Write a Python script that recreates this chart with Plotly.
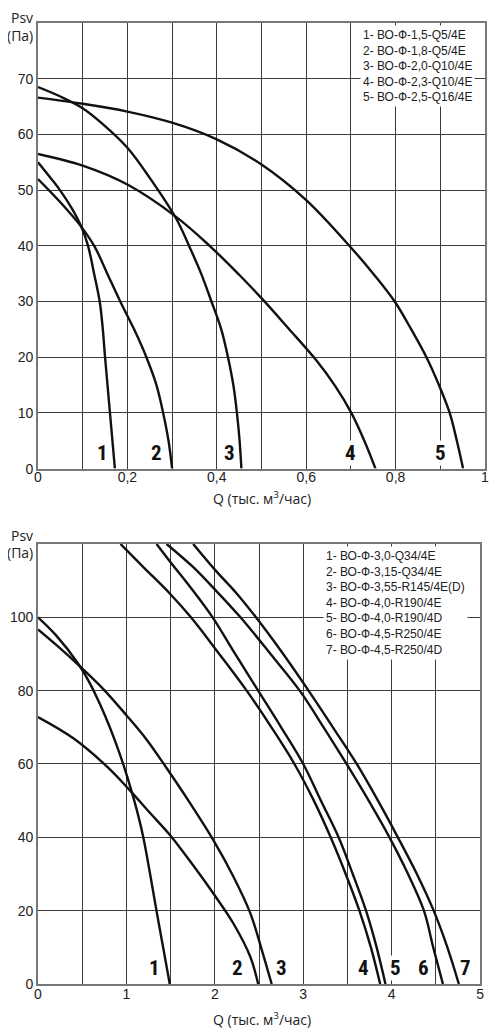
import plotly.graph_objects as go

# --- top chart: BO-Ф-1,5 ... 2,5 (Q in thousand m3/h, Psv in Pa)
t1_q = [0, 0.03, 0.049, 0.075, 0.097, 0.112, 0.1255, 0.138, 0.145, 0.150, 0.161, 0.172]
t1_p = [55, 52.0, 50.0, 46.8, 43.4, 40, 35, 30, 25, 20, 10, 0]
t2_q = [0, 0.049, 0.097, 0.127, 0.155, 0.184, 0.215, 0.2425, 0.265, 0.28, 0.292, 0.30]
t2_p = [52, 47.9, 43.4, 39.8, 35, 30, 25, 20, 15, 10, 5, 0]
t3_q = [0, 0.05, 0.1, 0.15, 0.2, 0.25, 0.309, 0.339, 0.365, 0.388, 0.41, 0.425, 0.437, 0.445, 0.451, 0.455]
t3_p = [68.5, 66.8, 64.7, 61.5, 57.6, 52.2, 44.9, 39.8, 35, 30, 25, 20, 15, 10, 5, 0]
t4_q = [0, 0.1, 0.2, 0.309, 0.384, 0.45, 0.5, 0.56, 0.623, 0.665, 0.701, 0.73, 0.755]
t4_p = [56.5, 54.4, 51.0, 45.2, 40.0, 34.8, 30.6, 25.2, 19.4, 14.8, 10, 5, 0]
t5_q = [0, 0.1, 0.2, 0.3, 0.4, 0.5, 0.6, 0.7, 0.75, 0.798, 0.835, 0.869, 0.897, 0.921, 0.937, 0.951]
t5_p = [66.6, 65.5, 64.1, 62.1, 59.1, 54.6, 48.2, 39.7, 35, 30, 25, 20, 15, 10, 5, 0]

top_legend = [
    "1- ВО-Ф-1,5-Q5/4E",
    "2- ВО-Ф-1,8-Q5/4E",
    "3- ВО-Ф-2,0-Q10/4E",
    "4- ВО-Ф-2,3-Q10/4E",
    "5- ВО-Ф-2,5-Q16/4E",
]
top_label_q = [0.145, 0.266, 0.429, 0.70, 0.90]
top_xticks = [0, 0.2, 0.4, 0.6, 0.8, 1]
top_xtext = ["0", "0,2", "0,4", "0,6", "0,8", "1"]
top_yticks = [0, 10, 20, 30, 40, 50, 60, 70]

# --- bottom chart: BO-Ф-3,0 ... 4,5
b1_q = [0, 0.2, 0.453, 0.587, 0.699, 0.812, 0.906, 0.963, 1.058, 1.12, 1.189, 1.268, 1.34, 1.415, 1.49]
b1_p = [100, 95.2, 87.4, 82.0, 76.4, 70.0, 64.0, 60.0, 52.6, 47.2, 40.2, 30, 20, 10, 0]
b2_q = [0, 0.4, 0.793, 1.039, 1.265, 1.49, 1.75, 1.98, 2.21, 2.40, 2.49]
b2_p = [72.8, 67.0, 59.0, 52.8, 46.7, 40.7, 32.5, 24.8, 16.5, 7.5, 0]
b3_q = [0, 0.2, 0.453, 0.736, 1.0, 1.227, 1.454, 1.718, 1.98, 2.208, 2.40, 2.53, 2.643]
b3_p = [96.7, 92.6, 87.1, 80.5, 73.3, 66.7, 58.9, 49.4, 39.4, 29.4, 19.4, 9.4, 0]
b4_q = [0.933, 1.2, 1.49, 1.73, 2.05, 2.36, 2.64, 2.90, 3.12, 3.31, 3.48, 3.635, 3.765, 3.87]
b4_p = [120, 113.5, 106.5, 100, 90, 80, 70, 60, 50, 40, 30, 20, 10, 0]
b5_q = [1.341, 1.49, 1.73, 1.975, 2.23, 2.49, 2.75, 3.0, 3.2, 3.40, 3.56, 3.71, 3.83, 3.93]
b5_p = [120, 115.3, 108, 100, 90, 80, 70, 60, 50, 40, 30, 20, 10, 0]
b6_q = [1.454, 1.75, 2.0, 2.29, 2.63, 2.96, 3.23, 3.49, 3.74, 3.975, 4.185, 4.365, 4.47, 4.58]
b6_p = [120, 113.8, 107.6, 100, 90, 80, 70, 60, 50, 40, 30, 20, 10, 0]
b7_q = [1.755, 2.0, 2.247, 2.465, 2.737, 3.06, 3.335, 3.605, 3.845, 4.07, 4.285, 4.475, 4.63, 4.76]
b7_p = [120, 113, 106.5, 100, 91.2, 80, 70, 60, 50, 40, 30, 20, 10, 0]

bottom_legend = [
    "1- ВО-Ф-3,0-Q34/4E",
    "2- ВО-Ф-3,15-Q34/4E",
    "3- ВО-Ф-3,55-R145/4E(D)",
    "4- ВО-Ф-4,0-R190/4E",
    "5- ВО-Ф-4,0-R190/4D",
    "6- ВО-Ф-4,5-R250/4E",
    "7- ВО-Ф-4,5-R250/4D",
]
bottom_label_q = [1.32, 2.26, 2.75, 3.68, 4.04, 4.36, 4.84]
bottom_xticks = [0, 1, 2, 3, 4, 5]
bottom_yticks = [0, 20, 40, 60, 80, 100]

TICK_FONT = dict(family="Liberation Sans, Arial, sans-serif", size=14, color="#222")
TEXT_FONT = dict(family="Open Sans, Liberation Sans, sans-serif", size=14, color="#222")
NUM_FONT = dict(family="Liberation Sans Narrow, Roboto Condensed, Liberation Sans, sans-serif",
                size=21, color="#111")
LEG_FONT = dict(family="Liberation Sans, Arial, sans-serif", size=12, color="#222")
GRID = "#3c3c3c"
CURVE = dict(color="#111", width=2.4, shape="spline", smoothing=1.0)

fig = go.Figure()

for q, p in [(t1_q, t1_p), (t2_q, t2_p), (t3_q, t3_p), (t4_q, t4_p), (t5_q, t5_p)]:
    fig.add_trace(go.Scatter(x=q, y=p, mode="lines", line=CURVE, xaxis="x", yaxis="y",
                             showlegend=False, hoverinfo="skip"))

for q, p in [(b1_q, b1_p), (b2_q, b2_p), (b3_q, b3_p), (b4_q, b4_p),
             (b5_q, b5_p), (b6_q, b6_p), (b7_q, b7_p)]:
    fig.add_trace(go.Scatter(x=q, y=p, mode="lines", line=CURVE, xaxis="x2", yaxis="y2",
                             showlegend=False, hoverinfo="skip"))

axis_common = dict(
    showgrid=True, gridcolor=GRID, gridwidth=1.2,
    showline=True, mirror=True, linecolor="#777", linewidth=1.6,
    zeroline=False, ticks="", tickfont=TICK_FONT, fixedrange=True,
    automargin=False,
)

annotations = []

# curve numbers
for i, q in enumerate(top_label_q):
    annotations.append(dict(x=q, y=2.8, xref="x", yref="y", text=f"<b>{i + 1}</b>",
                            showarrow=False, font=NUM_FONT, bgcolor="white", borderpad=0))
for i, q in enumerate(bottom_label_q):
    annotations.append(dict(x=q, y=4.4, xref="x2", yref="y2", text=f"<b>{i + 1}</b>",
                            showarrow=False, font=NUM_FONT, bgcolor="white", borderpad=0))

# legends as text blocks
annotations.append(dict(x=0.72, y=79.7, xref="x", yref="y", xanchor="left", yanchor="top",
                        text="<br>".join(top_legend), align="left", showarrow=False,
                        font=LEG_FONT, bgcolor="white", borderpad=2))
annotations.append(dict(x=3.22, y=119.5, xref="x2", yref="y2", xanchor="left", yanchor="top",
                        text="<br>".join(bottom_legend), align="left", showarrow=False,
                        font=LEG_FONT, bgcolor="white", borderpad=2))

# axis captions
for y_psv, y_pa in [(1.0062, 0.9875), (0.4672, 0.4485)]:
    annotations.append(dict(x=-0.036, y=y_psv, xref="paper", yref="paper", text="Psv",
                            xanchor="center", yanchor="middle", showarrow=False, font=TEXT_FONT))
    annotations.append(dict(x=-0.040, y=y_pa, xref="paper", yref="paper", text="(Па)",
                            xanchor="center", yanchor="middle", showarrow=False, font=TEXT_FONT))
for y_q in [0.5055, -0.0365]:
    annotations.append(dict(x=0.50, y=y_q, xref="paper", yref="paper",
                            xanchor="center", yanchor="middle",
                            text="Q (тыс. м<sup>3</sup>/час)", showarrow=False, font=TEXT_FONT))

# page body keeps its default 8px margin, so the margins are shifted by it
fig.update_layout(
    width=500, height=1035,
    margin=dict(l=30, r=23, t=15, b=59),
    paper_bgcolor="white", plot_bgcolor="white",
    showlegend=False,
    xaxis=dict(axis_common, domain=[0, 1], range=[0, 1], anchor="y",
               tickvals=top_xticks, ticktext=top_xtext, ticklabelstandoff=-5,
               minor=dict(dtick=0.1, tick0=0, showgrid=True, gridcolor=GRID, gridwidth=1.2)),
    yaxis=dict(axis_common, domain=[0.5363, 1], range=[0, 80], anchor="x",
               tickvals=top_yticks),
    xaxis2=dict(axis_common, domain=[0, 0.989], range=[0, 5], anchor="y2",
                tickvals=bottom_xticks, ticklabelstandoff=-4,
                minor=dict(dtick=0.5, tick0=0, showgrid=True, gridcolor=GRID, gridwidth=1.2)),
    yaxis2=dict(axis_common, domain=[0, 0.4579], range=[0, 120], anchor="x2",
                tickvals=bottom_yticks,
                minor=dict(dtick=20, tick0=0, showgrid=True, gridcolor=GRID, gridwidth=1.2)),
    annotations=annotations,
)

fig.write_html("out.html")
